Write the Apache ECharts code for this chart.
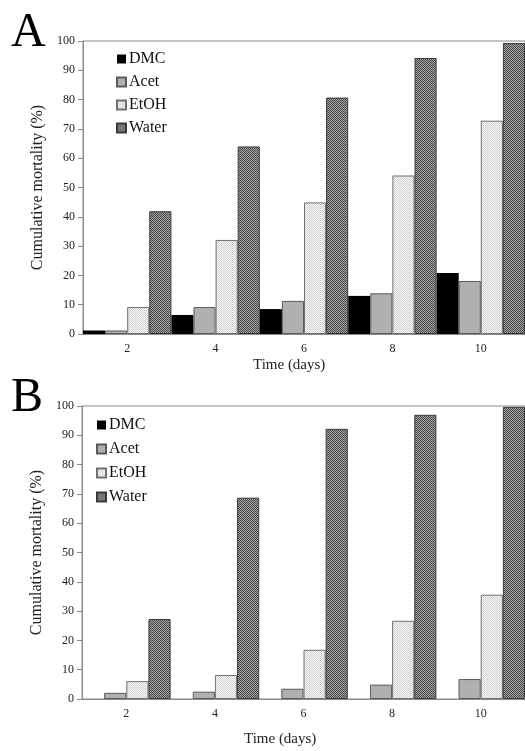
<!DOCTYPE html>
<html>
<head>
<meta charset="utf-8">
<script src="https://cdn.jsdelivr.net/npm/echarts@6/dist/echarts.min.js"></script>
<style>html,body{margin:0;padding:0;background:#fff;}#c{width:525px;height:751px;}</style>
</head>
<body>
<div id="c"></div>
<script>
const categories = ['2', '4', '6', '8', '10'];
const seriesNames = ['DMC', 'Acet', 'EtOH', 'Water'];
const yTicks = [0, 10, 20, 30, 40, 50, 60, 70, 80, 90, 100];

// Panel A
const dmcA = [1.2, 6.5, 8.5, 13.0, 20.8];
const acetA = [1.2, 9.2, 11.3, 13.9, 18.1];
const etohA = [9.2, 32.1, 44.9, 54.1, 72.8];
const waterA = [41.9, 64.0, 80.7, 94.2, 99.3];

// Panel B
const dmcB = [0, 0, 0, 0, 0];
const acetB = [2.1, 2.5, 3.5, 4.9, 6.8];
const etohB = [6.1, 8.2, 16.8, 26.7, 35.6];
const waterB = [27.3, 68.7, 92.2, 97.0, 99.7];

function checker(c1, c2) {
  const cv = document.createElement('canvas');
  cv.width = 2; cv.height = 2;
  const ctx = cv.getContext('2d');
  ctx.fillStyle = c1; ctx.fillRect(0, 0, 2, 2);
  ctx.fillStyle = c2; ctx.fillRect(0, 0, 1, 1); ctx.fillRect(1, 1, 1, 1);
  return { image: cv, repeat: 'repeat' };
}

const FONT = 'Liberation Serif';
const styles = [
  { color: '#000000', borderColor: '#000000', borderWidth: 0 },
  { color: '#b0b0b0', borderColor: '#5a5a5a', borderWidth: 1 },
  { color: checker('#f6f6f6', '#d2d2d2'), borderColor: '#707070', borderWidth: 1 },
  { color: checker('#a8a8a8', '#444444'), borderColor: '#3a3a3a', borderWidth: 1 }
];

const dataA = [dmcA, acetA, etohA, waterA];
const dataB = [dmcB, acetB, etohB, waterB];

const grids = [
  { left: 83, top: 41, width: 446, height: 293, show: true, borderColor: '#8a8a8a', borderWidth: 1, backgroundColor: 'transparent' },
  { left: 82, top: 406, width: 450, height: 293, show: true, borderColor: '#8a8a8a', borderWidth: 1, backgroundColor: 'transparent' }
];

function xAx(i) {
  return {
    type: 'category', gridIndex: i, data: categories,
    axisLine: { lineStyle: { color: '#8a8a8a', width: 1 } },
    axisTick: { show: false },
    axisLabel: { fontFamily: FONT, fontSize: 12, color: '#222', margin: 9 }
  };
}
function yAx(i, gap) {
  return {
    type: 'value', gridIndex: i, min: yTicks[0], max: yTicks[yTicks.length - 1], interval: 10,
    name: 'Cumulative mortality (%)', nameLocation: 'middle', nameGap: gap,
    nameTextStyle: { fontFamily: FONT, fontSize: 16, color: '#222' },
    axisLine: { show: true, lineStyle: { color: '#8a8a8a', width: 1 } },
    axisTick: { show: true, length: 5, lineStyle: { color: '#8a8a8a' } },
    splitLine: { show: false },
    axisLabel: { fontFamily: FONT, fontSize: 12, color: '#222', margin: 8 }
  };
}

const series = [];
[dataA, dataB].forEach((d, gi) => {
  seriesNames.forEach((n, si) => {
    series.push({
      type: 'bar', name: n, xAxisIndex: gi, yAxisIndex: gi,
      data: d[si], barGap: '0%', barCategoryGap: '0%',
      itemStyle: styles[si], emphasis: { disabled: true }, animation: false
    });
  });
});

const chart = echarts.init(document.getElementById('c'), null, { renderer: 'canvas' });
chart.setOption({
  animation: false,
  backgroundColor: '#fff',
  grid: grids,
  xAxis: [xAx(0), xAx(1)],
  yAxis: [yAx(0, 35), yAx(1, 34)],
  legend: [
    { data: seriesNames, left: 111, top: 46, orient: 'vertical', icon: 'rect', itemWidth: 9, itemHeight: 9, itemGap: 7,
      textStyle: { fontFamily: FONT, fontSize: 16, color: '#111', lineHeight: 16, padding: [0, 0, 0, -2] }, selectedMode: false },
    { data: seriesNames, left: 91, top: 412, orient: 'vertical', icon: 'rect', itemWidth: 9, itemHeight: 9, itemGap: 8,
      textStyle: { fontFamily: FONT, fontSize: 16, color: '#111', lineHeight: 16, padding: [0, 0, 0, -2] }, selectedMode: false }
  ],
  title: [
    { text: 'A', left: 6, top: 4, textStyle: { fontFamily: FONT, fontSize: 48, fontWeight: 'normal', color: '#000' } },
    { text: 'B', left: 6, top: 369, textStyle: { fontFamily: FONT, fontSize: 48, fontWeight: 'normal', color: '#000' } },
    { text: 'Time (days)', left: 248, top: 353, textStyle: { fontFamily: FONT, fontSize: 15, fontWeight: 'normal', color: '#222' } },
    { text: 'Time (days)', left: 239, top: 727, textStyle: { fontFamily: FONT, fontSize: 15, fontWeight: 'normal', color: '#222' } }
  ],
  series: series
});
</script>
</body>
</html>
